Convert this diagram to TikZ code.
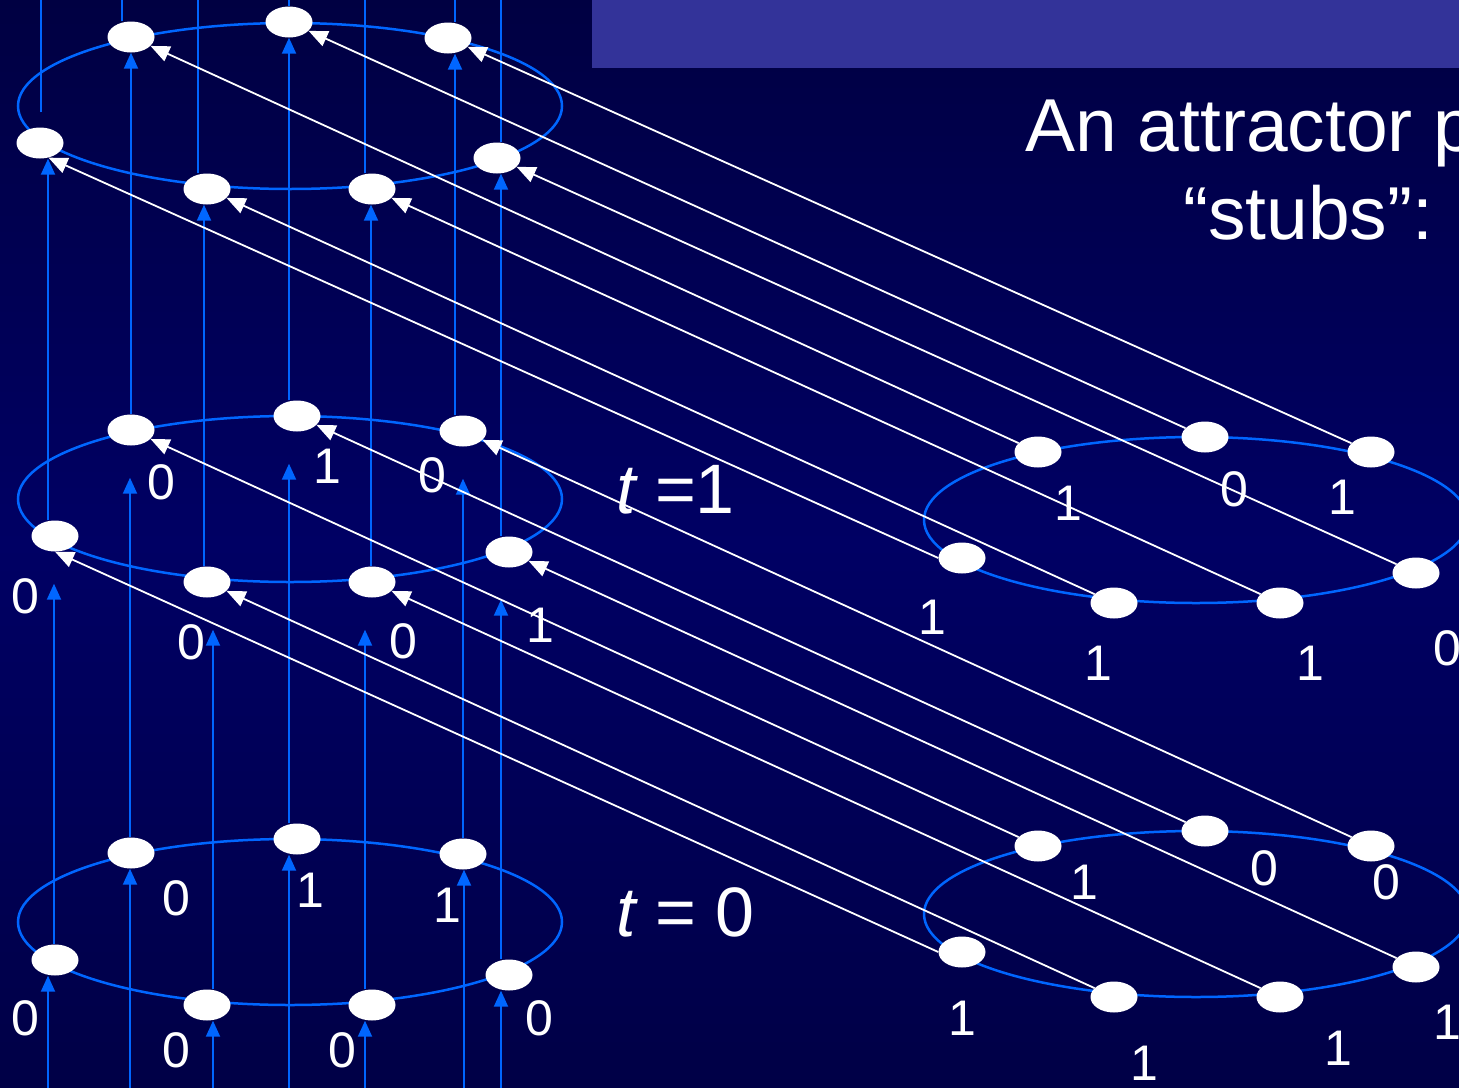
\documentclass[tikz,border=0pt]{standalone}
\usepackage{fontspec}
\setmainfont{Liberation Sans}
\usetikzlibrary{positioning,arrows.meta,shapes.geometric}

\definecolor{slidetop}{RGB}{0,0,66}
\definecolor{slidemid}{RGB}{0,0,100}
\definecolor{slidebot}{RGB}{0,0,70}
\definecolor{titlebar}{RGB}{51,51,153}
\definecolor{wireblue}{RGB}{0,102,255}

\begin{document}
\begin{tikzpicture}[
    x=1pt, y=-1pt,
    >={Triangle[length=16pt,width=14pt]},
    every node/.style={text=white, font=\fontsize{50}{60}\selectfont},
    spin/.style={ellipse, fill=white, minimum width=47pt, minimum height=31pt, inner sep=0pt},
    ring/.style={draw=wireblue, line width=2.5pt},
    world/.style={wireblue, line width=2pt},
    link/.style={white, line width=1.8pt, -{Triangle[length=19pt,width=16pt]}},
    heading/.style={anchor=base west, inner sep=0pt, font=\fontsize{75}{90}\selectfont},
    timelabel/.style={anchor=base west, inner sep=0pt, font=\fontsize{70}{84}\selectfont}
]

\useasboundingbox (0,0) rectangle (1459,1087);
\clip (0,0) rectangle (1459,1087);
\shade[top color=slidetop, bottom color=slidebot, middle color=slidemid] (0,0) rectangle (1459,1087);
\fill[titlebar] (592,0) rectangle (1459,68);

\node[heading] (title1) at (1025,151) {An attractor p};
\node[heading] (title2) at (1183,239) {“stubs”: a};

% rings
\draw[ring] (290,106) ellipse [x radius=272, y radius=83];
\draw[ring] (290,499) ellipse [x radius=272, y radius=83];
\draw[ring] (290,922) ellipse [x radius=272, y radius=83];
\draw[ring] (1196,520) ellipse [x radius=272, y radius=83];
\draw[ring] (1196,914) ellipse [x radius=272, y radius=83];

% top ring
\node[spin] (u1) at (40,143) {};
\node[spin] (u2) at (131,37) {};
\node[spin] (u3) at (289,22) {};
\node[spin] (u4) at (448,38) {};
\node[spin] (u5) at (497,158) {};
\node[spin] (u6) at (372,189) {};
\node[spin] (u7) at (207,189) {};

% middle ring, t=1
\node[spin] (m1) at (55,536) {};
\node[spin] (m2) at (131,430) {};
\node[spin] (m3) at (297,416) {};
\node[spin] (m4) at (463,431) {};
\node[spin] (m5) at (509,552) {};
\node[spin] (m6) at (372,582) {};
\node[spin] (m7) at (207,582) {};

% bottom ring, t=0
\node[spin] (b1) at (55,960) {};
\node[spin] (b2) at (131,853) {};
\node[spin] (b3) at (297,839) {};
\node[spin] (b4) at (463,854) {};
\node[spin] (b5) at (509,975) {};
\node[spin] (b6) at (372,1005) {};
\node[spin] (b7) at (207,1005) {};

% right rings
\node[spin] (r1) at (962,558) {};
\node[spin] (r2) at (1038,452) {};
\node[spin] (r3) at (1205,437) {};
\node[spin] (r4) at (1371,452) {};
\node[spin] (r5) at (1416,573) {};
\node[spin] (r6) at (1280,603) {};
\node[spin] (r7) at (1114,603) {};

\node[spin] (s1) at (962,952) {};
\node[spin] (s2) at (1038,846) {};
\node[spin] (s3) at (1205,831) {};
\node[spin] (s4) at (1371,846) {};
\node[spin] (s5) at (1416,967) {};
\node[spin] (s6) at (1280,997) {};
\node[spin] (s7) at (1114,997) {};

% world lines into the bottom ring
\draw[world,<-] ([xshift=-7pt]b1.south) -- +(0,250);
\draw[world,<-] ([xshift=-1pt]b2.south) -- +(0,250);
\draw[world,<-] ([xshift=-8pt]b3.south) -- +(0,250);
\draw[world,<-] ([xshift=1pt]b4.south) -- +(0,250);
\draw[world,<-] ([xshift=-8pt]b5.south) -- +(0,250);
\draw[world,<-] ([xshift=-7pt]b6.south) -- +(0,250);
\draw[world,<-] ([xshift=6pt]b7.south) -- +(0,250);

% bottom ring -> middle ring
\draw[world,->,shorten >=32pt] ([xshift=-1pt]b1.north) -- ([xshift=-1pt]m1.south);
\draw[world,->,shorten >=32pt] ([xshift=-1pt]b2.north) -- ([xshift=-1pt]m2.south);
\draw[world,->,shorten >=32pt] ([xshift=-8pt]b3.north) -- ([xshift=-8pt]m3.south);
\draw[world,->,shorten >=32pt] (b4.north) -- (m4.south);
\draw[world,->,shorten >=32pt] ([xshift=-8pt]b5.north) -- ([xshift=-8pt]m5.south);
\draw[world,->,shorten >=32pt] ([xshift=-7pt]b6.north) -- ([xshift=-7pt]m6.south);
\draw[world,->,shorten >=32pt] ([xshift=6pt]b7.north) -- ([xshift=6pt]m7.south);

% middle ring -> top ring
\draw[world,->] ([xshift=-7pt]m1.north) -- ([xshift=8pt]u1.south);
\draw[world,->] (m2.north) -- (u2.south);
\draw[world,->] ([xshift=-8pt]m3.north) -- (u3.south);
\draw[world,->] ([xshift=-8pt]m4.north) -- ([xshift=7pt]u4.south);
\draw[world,->] ([xshift=-8pt]m5.north) -- ([xshift=4pt]u5.south);
\draw[world,->] ([xshift=-1pt]m6.north) -- ([xshift=-1pt]u6.south);
\draw[world,->] ([xshift=-3pt]m7.north) -- ([xshift=-3pt]u7.south);

% top ring -> out of the picture
\draw[world,shorten <=15pt] ([xshift=1pt]u1.north) -- +(0,-200);
\draw[world] ([xshift=-9pt]u2.north) -- +(0,-200);
\draw[world] (u3.north) -- +(0,-200);
\draw[world] ([xshift=7pt]u4.north) -- +(0,-200);
\draw[world] ([xshift=4pt]u5.north) -- +(0,-200);
\draw[world] ([xshift=-7pt]u6.north) -- +(0,-200);
\draw[world] ([xshift=-9pt]u7.north) -- +(0,-200);

% stubs back to the rings
\draw[link] (r1.west) -- (u1.-60);
\draw[link] (r2) -- (u2);
\draw[link] (r3) -- (u3);
\draw[link] (r4) -- (u4);
\draw[link] (r5) -- (u5);
\draw[link] (r6) -- (u6);
\draw[link] (r7) -- (u7);

\draw[link] (s1.west) -- (m1.south);
\draw[link] (s2) -- (m2);
\draw[link] (s3) -- (m3);
\draw[link] (s4) -- (m4);
\draw[link] (s5) -- (m5);
\draw[link] (s6) -- (m6);
\draw[link] (s7) -- (m7);

% values
\node (m1v) at (25,596) {0};
\node (m2v) at (161,482) {0};
\node (m3v) at (327,466) {1};
\node (m4v) at (432,475) {0};
\node (m5v) at (540,625) {1};
\node (m6v) at (403,641) {0};
\node (m7v) at (191,642) {0};

\node (b1v) at (25,1018) {0};
\node (b2v) at (176,898) {0};
\node (b3v) at (310,890) {1};
\node (b4v) at (447,905) {1};
\node (b5v) at (539,1018) {0};
\node (b6v) at (342,1050) {0};
\node (b7v) at (176,1050) {0};

\node (r1v) at (932,617) {1};
\node (r2v) at (1068,503) {1};
\node (r3v) at (1234,489) {0};
\node (r4v) at (1342,497) {1};
\node (r5v) at (1447,648) {0};
\node (r6v) at (1310,663) {1};
\node (r7v) at (1098,663) {1};

\node (s1v) at (962,1018) {1};
\node (s2v) at (1084,882) {1};
\node (s3v) at (1264,868) {0};
\node (s4v) at (1386,882) {0};
\node (s5v) at (1447,1022) {1};
\node (s6v) at (1338,1048) {1};
\node (s7v) at (1144,1063) {1};

\node[timelabel] (tone) at (616,513) {{\itshape t} =1};
\node[timelabel] (tzero) at (616,936) {{\itshape t} = 0};

\end{tikzpicture}
\end{document}
